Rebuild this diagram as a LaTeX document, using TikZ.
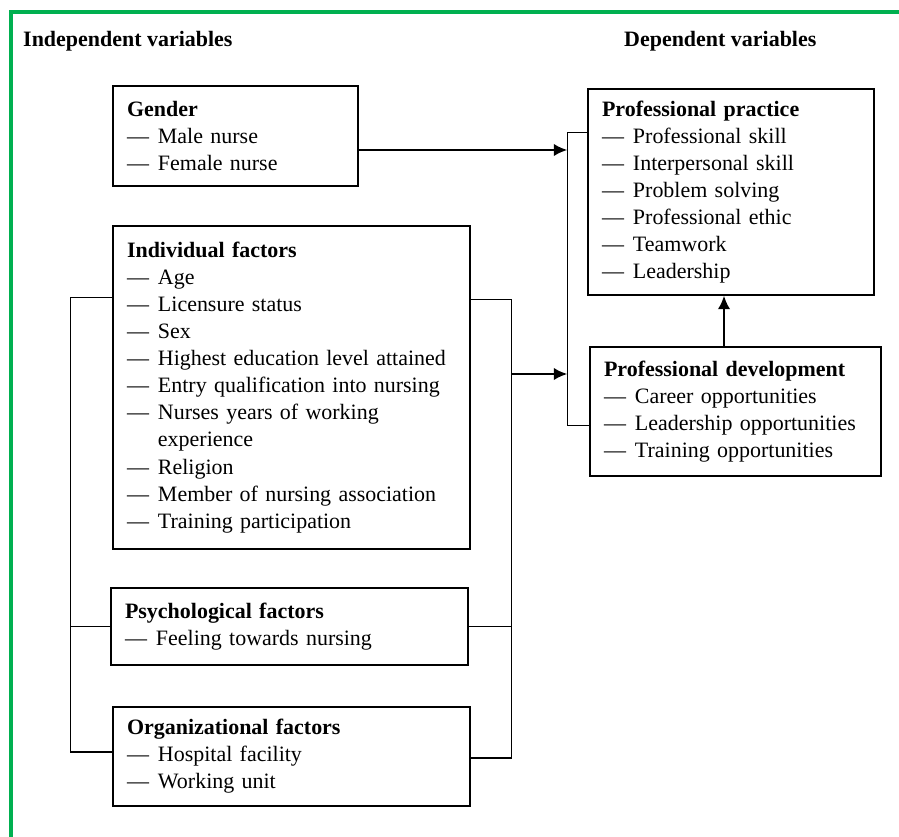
\documentclass[tikz,border=0pt]{standalone}
\usepackage{fontspec}
\setmainfont{Liberation Serif}
\usetikzlibrary{arrows.meta}
\definecolor{framegreen}{RGB}{0,176,80}
\newcommand{\dashitem}{\textemdash\hspace{0.18cm}}

\begin{document}
\begin{tikzpicture}[x=0.02cm, y=-0.02cm,
        factor/.style={rectangle, draw=black, line width=0.85pt, inner xsep=0.28cm, align=left, font=\fontsize{12.5}{15.4}\selectfont},
        heading/.style={anchor=west, font=\fontsize{12.5}{15.4}\selectfont\bfseries},
        link/.style={line width=0.8pt},
        arrow/.style={line width=1.2pt, -{Latex[length=0.27cm,width=0.25cm]}}
    ]
        \useasboundingbox (0,0) rectangle (899,837);
        \draw[framegreen, line width=2.2pt] (11,837) -- (11,12) -- (899,12);

        \node[heading] (indep) at (17,41) {Independent variables};
        \node[heading] (dep) at (618,41) {Dependent variables};

        \node[factor, text width=4.34cm, minimum height=2cm] (gender) at (235.5,136)
            {\textbf{Gender}\\\dashitem Male nurse\\\dashitem Female nurse};
        \node[factor, text width=6.58cm, minimum height=6.46cm] (indiv) at (291.5,387.5)
            {\textbf{Individual factors}\\\dashitem Age\\\dashitem Licensure status\\\dashitem Sex\\
             \dashitem Highest education level attained\\\dashitem Entry qualification into nursing\\
             \dashitem Nurses years of working\\\hphantom{\dashitem}experience\\\dashitem Religion\\
             \dashitem Member of nursing association\\\dashitem Training participation};
        \node[factor, text width=6.58cm, minimum height=1.54cm] (psych) at (289.5,626.5)
            {\textbf{Psychological factors}\\\dashitem Feeling towards nursing};
        \node[factor, text width=6.58cm, minimum height=1.98cm] (org) at (291.5,756.5)
            {\textbf{Organizational factors}\\\dashitem Hospital facility\\\dashitem Working unit};
        \node[factor, text width=5.16cm, minimum height=4.12cm] (practice) at (731,192)
            {\textbf{Professional practice}\\\dashitem Professional skill\\\dashitem Interpersonal skill\\
             \dashitem Problem solving\\\dashitem Professional ethic\\\dashitem Teamwork\\\dashitem Leadership};
        \node[factor, text width=5.26cm, minimum height=2.58cm] (develop) at (735.5,411.5)
            {\textbf{Professional development}\\\dashitem Career opportunities\\\dashitem Leadership opportunities\\
             \dashitem Training opportunities};

        % brackets
        \draw[link] ([yshift=-1.44cm]indiv.north west) -- ++(-0.84cm,0) coordinate (lbar) |- ([yshift=0.09cm]org.west);
        \draw[link] (psych.west) -- (psych.west -| lbar);
        \draw[link] ([yshift=-1.48cm]indiv.north east) -- ++(0.82cm,0) coordinate (rbar) |- ([yshift=-0.03cm]org.east);
        \draw[link] (psych.east) -- (psych.east -| rbar);
        \draw[link] ([yshift=-0.88cm]practice.north west) -- ++(-0.4cm,0) coordinate (mbar) |- ([yshift=-1.58cm]develop.north west);

        % arrows
        \draw[arrow] ([yshift=-0.28cm]gender.east) -- ([yshift=-0.28cm]gender.east -| mbar);
        \draw[arrow] ([yshift=0.27cm]indiv.east -| rbar) -- ([yshift=0.27cm]indiv.east -| mbar);
        \draw[arrow] ([xshift=-0.23cm]develop.north) -- ([xshift=-0.23cm]develop.north |- practice.south);
    \end{tikzpicture}
\end{document}
